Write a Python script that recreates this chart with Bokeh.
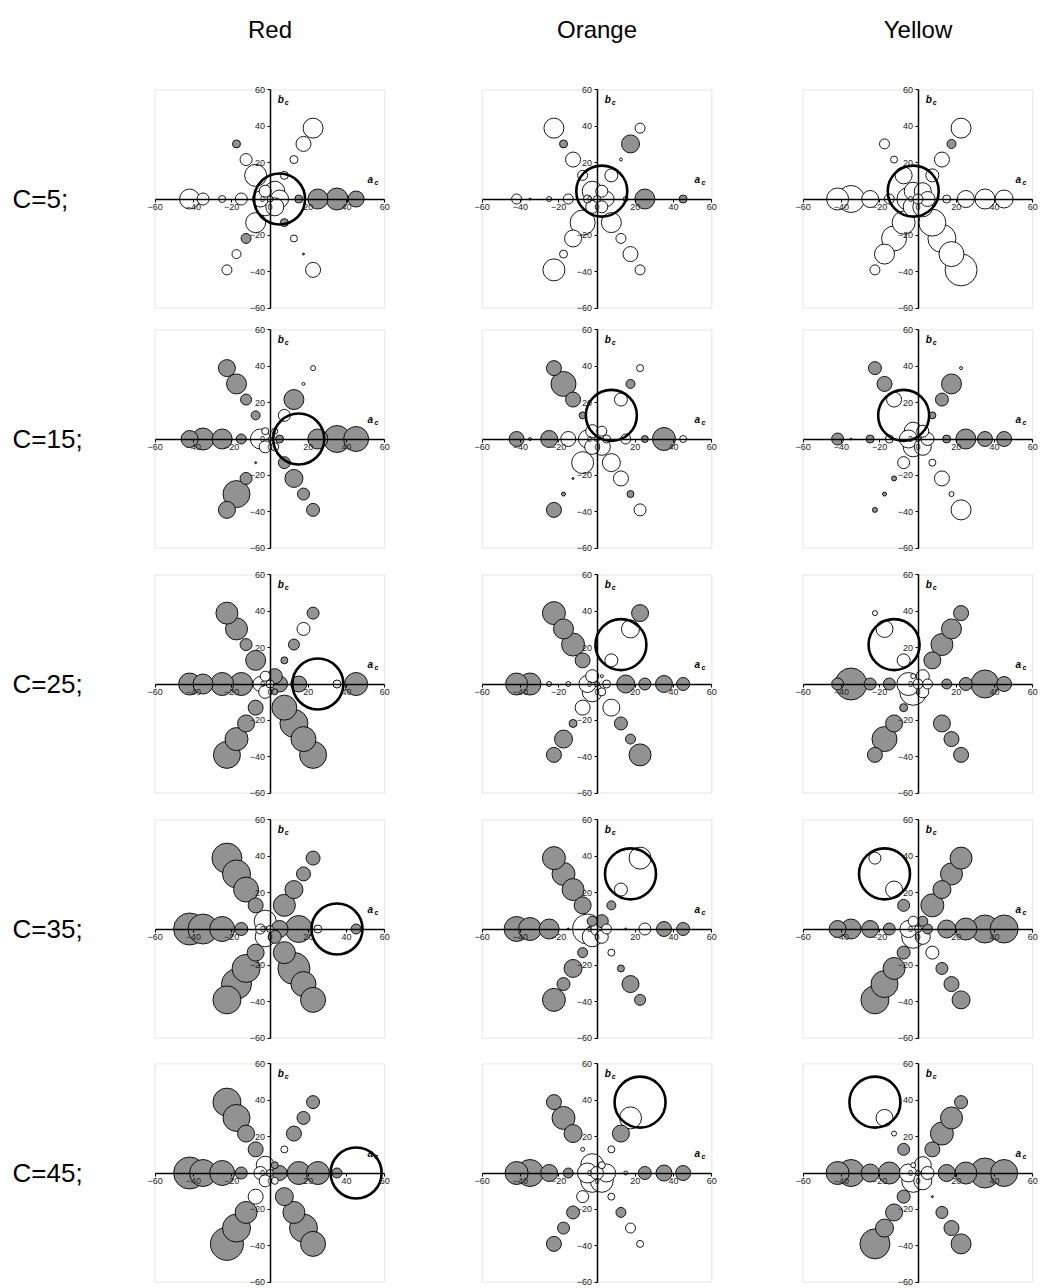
import numpy as np
from bokeh.plotting import figure
from bokeh.layouts import column, row
from bokeh.models import ColumnDataSource, FixedTicker, Range1d, BoxAnnotation
from bokeh.core.properties import value
from bokeh.embed import file_html
from bokeh.resources import INLINE

# ---------------- data ----------------
color_names = ["Red", "Orange", "Yellow"]
ref_hue_deg = [0, 60, 120]              # hue angle of each reference colour
chroma_labels = ["C=5;", "C=15;", "C=25;", "C=35;", "C=45;"]
ref_chroma = [5, 15, 25, 35, 45]

# sample grid (a_c, b_c): centre, then 0°,60°,120°,180°,240°,300° at chroma 5..45
grid_a = [0,
          5, 15, 25, 35, 45,
          2.5, 7.5, 12.5, 17.5, 22.5,
          -2.5, -7.5, -12.5, -17.5, -22.5,
          -5, -15, -25, -35, -42,
          -2.5, -7.5, -12.5, -17.5, -22.5,
          2.5, 7.5, 12.5, 17.5, 22.5]
grid_b = [0,
          0, 0, 0, 0, 0,
          4.3, 13, 21.7, 30.3, 39,
          4.3, 13, 21.7, 30.3, 39,
          0, 0, 0, 0, 0,
          -4.3, -13, -21.7, -30.3, -39,
          -4.3, -13, -21.7, -30.3, -39]

# response per grid point (positive = grey bubble, negative = white bubble)
red_c05 = [-6, -18, 8, 20, 22, 16, -20, -8, -8, -15, -20, -12, -22, -12, 8, 0,
           -16, -12, -7, -12, -20, -18, -20, 10, -9, -10, -18, 8, -7, 2, -15]
red_c15 = [-4, 8, 0, 20, 27, 25, -6, -12, 20, -3, -5, -7, 9, 11, 20, 17,
           -20, 10, 20, 22, 17, -12, 2, 12, 27, 17, -8, 12, 18, 12, 13]
red_c25 = [-8, 16, 16, 0, -8, 23, 15, 7, 11, -13, 12, -10, 20, 12, 22, 22,
           -15, 23, 23, 20, 22, -13, 15, 17, 23, 27, 6, 25, 28, 25, 27]
red_c35 = [-7, 17, 27, -8, 0, 10, 0, 22, 18, 14, 14, -22, 15, 25, 28, 30,
           -10, 13, 25, 30, 32, -20, 17, 28, 30, 28, 13, 22, 32, 25, 25]
red_c45 = [-7, 15, 23, 23, 10, 0, 7, -7, 15, 13, 13, -18, 15, 17, 27, 28,
           -13, 12, 25, 27, 32, -12, -15, 22, 28, 33, -7, 18, 22, 28, 25]

orange_c05 = [-7, -15, -5, 20, 0, 8, -12, -13, -3, 18, -10, -20, -10, -15, 8, -20,
              -8, -10, -5, 2, -10, -13, -25, -17, -8, -22, -12, -20, -10, -15, -10]
orange_c15 = [-5, -8, -10, 7, 23, -7, -10, 0, -13, 9, -7, -13, 7, 15, 25, 15,
              -18, -15, 17, -3, 15, -15, -22, 2, 4, 15, -17, -18, -15, 7, -12]
orange_c25 = [-5, -8, 18, 12, 17, 13, -3, -13, 0, -18, 17, -13, 15, 23, 20, 23,
              -17, -5, -5, 22, 22, -20, -15, 8, 18, 15, -8, -17, 13, 10, 22]
orange_c35 = [-13, -10, 2, -12, 15, 13, 13, 9, -13, 0, -22, 10, 17, 22, 23, 23,
              -30, 2, 20, 23, 25, -20, 10, 18, 13, 23, -13, -7, 7, 17, 11]
orange_c45 = [-13, -18, -4, 13, 16, 15, -7, -7, 17, -22, 0, -23, -4, 18, 23, 15,
              -20, 10, 17, 27, 23, -23, -12, 13, 12, 15, -23, -7, 10, -10, -7]

yellow_c05 = [-10, -15, -8, -17, -20, -18, -17, -13, -15, 9, -20, -18, -17, -7, -10, 0,
              -23, -10, -17, -27, -22, -20, -23, -25, -20, -10, -20, -27, -28, -25, -32]
yellow_c15 = [-5, -13, 8, 20, 15, 15, -12, 7, 13, 20, -3, -18, 0, -15, 15, 13,
              -18, -8, 8, 2, 12, -20, -12, 5, 4, 5, -17, -7, -15, -5, -20]
yellow_c25 = [-10, -10, 10, 13, 28, 15, -13, 17, 22, 20, 15, -5, -13, 0, -17, -5,
              -23, 12, 12, 32, 12, -27, 8, 17, 25, 15, -12, 0, 17, 15, 15]
yellow_c35 = [-7, 10, 18, 22, 28, 28, 10, 23, 18, 22, 22, -10, 12, -17, 0, -12,
              -17, 12, 17, 20, 17, -23, 13, 22, 27, 28, -15, -13, 12, 15, 18]
yellow_c45 = [-5, -13, 17, 22, 30, 27, -17, 15, 23, 22, 13, -5, 12, -5, -17, 0,
              -18, 22, 18, 27, 23, -23, 13, 17, 18, 30, -18, 2, 12, 15, 20]

panel_values = [
    [red_c05, orange_c05, yellow_c05],
    [red_c15, orange_c15, yellow_c15],
    [red_c25, orange_c25, yellow_c25],
    [red_c35, orange_c35, yellow_c35],
    [red_c45, orange_c45, yellow_c45],
]
ticks = [-60, -40, -20, 0, 20, 40, 60]
axis_lim = 60

# ---------------- styling / layout ----------------
FONT = "Liberation Sans"
XPAD, YPAD = 4, 3                 # data-unit padding so edge tick labels are not clipped
FRAME_W, FRAME_H = 245, 229
LABEL_W = 147
RIGHT_B = [82, 76, 0]
BOTTOM_B = [11, 16, 16, 15, 0]
HEADER_H = 84
GREY = "#929292"
REF_SIZE = 51


def make_panel(vals, hue_deg, chroma, col, r):
    p = figure(frame_width=FRAME_W, frame_height=FRAME_H,
               x_range=Range1d(-axis_lim - XPAD, axis_lim + XPAD),
               y_range=Range1d(-axis_lim - YPAD, axis_lim + YPAD),
               min_border_left=0, min_border_right=RIGHT_B[col],
               min_border_top=0, min_border_bottom=BOTTOM_B[r],
               output_backend="svg", toolbar_location=None,
               background_fill_color="white", border_fill_color="white",
               outline_line_color=None)
    p.grid.visible = False
    p.add_layout(BoxAnnotation(left=-axis_lim, right=axis_lim, bottom=-axis_lim, top=axis_lim,
                               fill_color=None, line_color="#a8a8a8", line_width=1,
                               level="underlay"))
    for ax in (p.xaxis[0], p.yaxis[0]):
        ax.fixed_location = 0
        ax.bounds = (-axis_lim, axis_lim)
        ax.ticker = FixedTicker(ticks=ticks)
        ax.axis_line_color = "black"
        ax.axis_line_width = 1.5
        ax.major_tick_line_color = "black"
        ax.major_tick_in = 0
        ax.major_tick_out = 3
        ax.minor_tick_line_color = None
        ax.major_label_text_font = FONT
        ax.major_label_text_font_size = "9px"
        ax.major_label_text_color = "#222222"
        ax.major_label_standoff = 2

    v = np.array(vals, dtype=float)
    a = np.array(grid_a, dtype=float)
    b = np.array(grid_b, dtype=float)
    keep = v != 0
    v, a, b = v[keep], a[keep], b[keep]
    order = np.argsort(-np.abs(v), kind="stable")
    v, a, b = v[order], a[order], b[order]
    src = ColumnDataSource(dict(a=a, b=b, d=np.abs(v),
                                fill=[GREY if x > 0 else "white" for x in v]))
    p.scatter(x="a", y="b", size="d", source=src, fill_color="fill",
              line_color="black", line_width=0.9)

    h = np.deg2rad(hue_deg)
    ref = ColumnDataSource(dict(a=[chroma * np.cos(h)], b=[chroma * np.sin(h)]))
    p.scatter(x="a", y="b", size=REF_SIZE, source=ref, fill_color=None,
              line_color="black", line_width=2.6)

    # axis names
    p.text(x=[4], y=[55], text=["b"], text_font=value(FONT), text_font_size="10px",
           text_font_style="bold italic", text_baseline="middle", text_color="black")
    p.text(x=[4], y=[55], text=["c"], text_font=value(FONT), text_font_size="7px",
           text_font_style="bold italic", text_baseline="middle", text_color="black",
           x_offset=7, y_offset=3)
    p.text(x=[51], y=[11], text=["a"], text_font=value(FONT), text_font_size="10px",
           text_font_style="bold italic", text_baseline="middle", text_color="black")
    p.text(x=[51], y=[11], text=["c"], text_font=value(FONT), text_font_size="7px",
           text_font_style="bold italic", text_baseline="middle", text_color="black",
           x_offset=7, y_offset=3)
    return p


def make_row_label(text, r):
    p = figure(frame_width=LABEL_W, frame_height=FRAME_H,
               x_range=Range1d(0, LABEL_W), y_range=Range1d(-axis_lim - YPAD, axis_lim + YPAD),
               min_border_left=0, min_border_right=0,
               min_border_top=0, min_border_bottom=BOTTOM_B[r],
               output_backend="svg", toolbar_location=None,
               outline_line_color=None, border_fill_color="white")
    p.axis.visible = False
    p.grid.visible = False
    p.text(x=[12], y=[0], text=[text], text_font=value(FONT), text_font_size="26px",
           text_baseline="middle", text_align="left", text_color="black")
    return p


total_w = LABEL_W + 3 * FRAME_W + sum(RIGHT_B)
header = figure(frame_width=total_w, frame_height=HEADER_H,
                x_range=Range1d(0, total_w), y_range=Range1d(0, HEADER_H),
                min_border=0, output_backend="svg", toolbar_location=None,
                outline_line_color=None, border_fill_color="white")
header.axis.visible = False
header.grid.visible = False
x0 = LABEL_W
title_x = []
for c in range(3):
    title_x.append(x0 + FRAME_W / 2)
    x0 += FRAME_W + RIGHT_B[c]
header.text(x=title_x, y=[HEADER_H - 29] * 3, text=color_names, text_font=value(FONT),
            text_font_size="24px", text_align="center", text_baseline="middle",
            text_color="black")

rows = [header]
for r, lab in enumerate(chroma_labels):
    figs = [make_row_label(lab, r)]
    for c in range(3):
        figs.append(make_panel(panel_values[r][c], ref_hue_deg[c], ref_chroma[r], c, r))
    rows.append(row(*figs, spacing=0))

layout = column(*rows, spacing=0)
open("out.html", "w").write(file_html(layout, INLINE))
